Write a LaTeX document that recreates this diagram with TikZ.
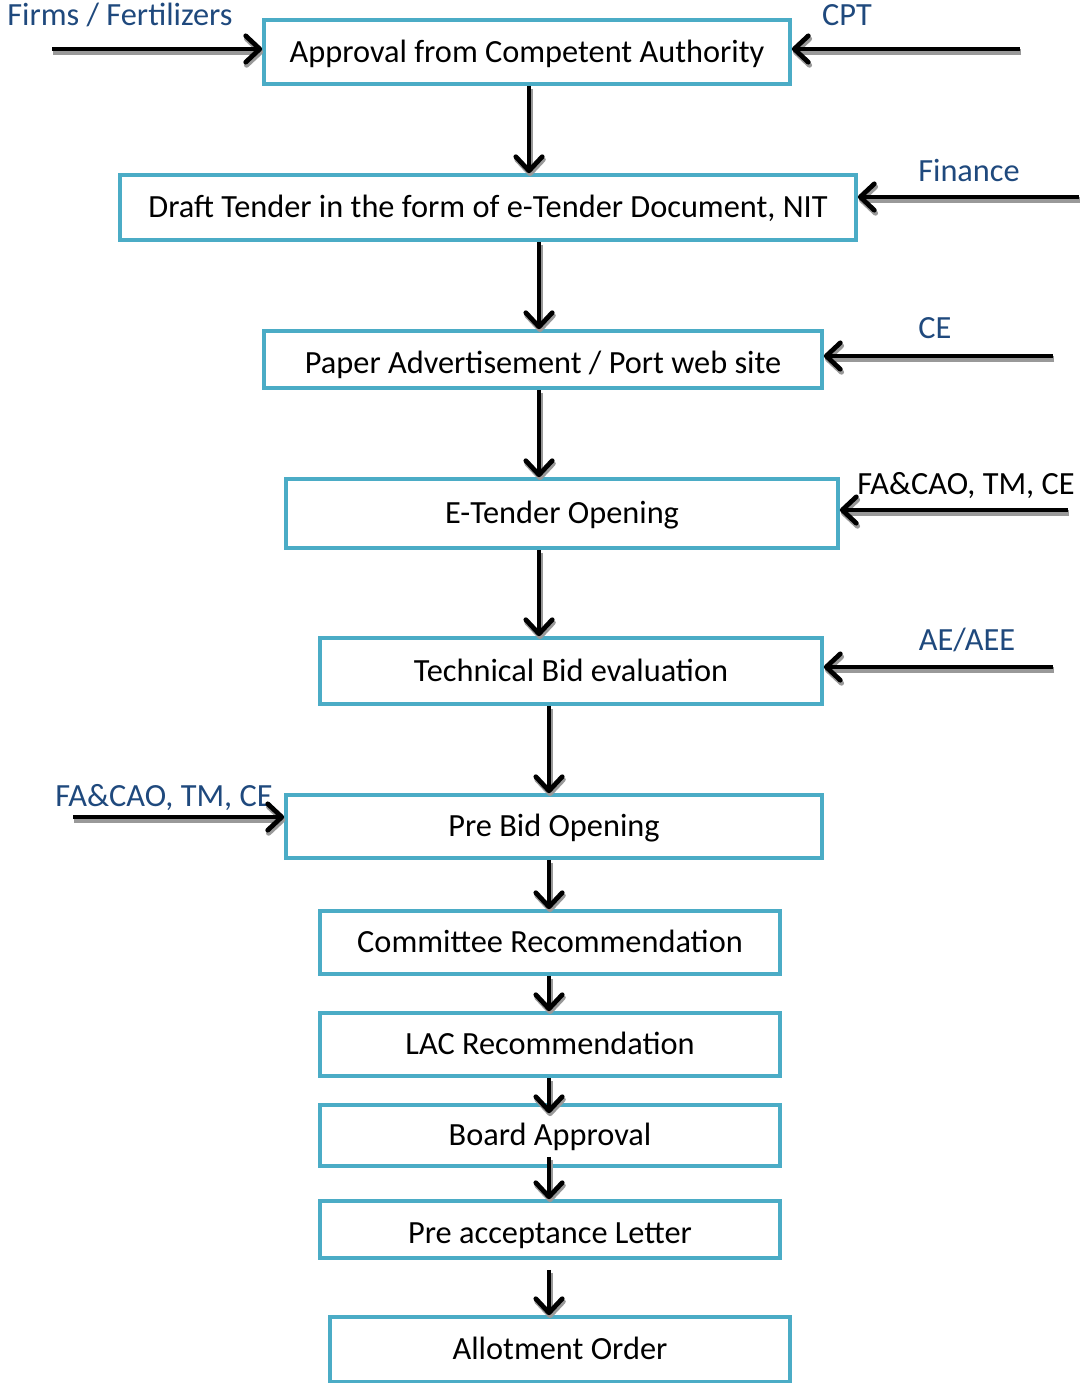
\documentclass[tikz,border=0pt]{standalone}
\usepackage{fontspec}
\setmainfont{Carlito}
\usepackage{tikz}
\usetikzlibrary{arrows.meta}
\definecolor{boxblue}{HTML}{4BACC6}
\definecolor{lblblue}{HTML}{1F497D}
\tikzset{>/.tip={Straight Barb[length=8pt,width=15pt,round]},
  box/.style={draw=boxblue, line width=2.1pt, inner sep=0pt, text height=13pt, text depth=1.6pt, font=\fontsize{18.4}{22}\selectfont},
  low/.style={text height=15.4pt, text depth=0pt},
  lbl/.style={anchor=base, text=lblblue, inner sep=0pt, font=\fontsize{18.4}{22}\selectfont},
  flow/.style={->, line width=2.7pt, preaction={draw=black!40, line width=2.9pt, transform canvas={shift={(0.6pt,-1.7pt)}}}}}

\begin{document}
\begin{tikzpicture}[x=0.2mm, y=-0.2mm]
\useasboundingbox (0,0) rectangle (1079,1383);
% boxes
\node[box, minimum width=105.2mm, minimum height=12.8mm] (appr)  at (527,52)    {Approval from Competent Authority};
\node[box, minimum width=147.2mm, minimum height=13mm]   (draft) at (488,207.5) {Draft Tender in the form of e-Tender Document, NIT};
\node[box, low, minimum width=111.6mm, minimum height=11.4mm] (paper) at (543,359.5) {Paper Advertisement / Port web site};
\node[box, minimum width=110.4mm, minimum height=13.8mm] (open)  at (562,513.5) {E-Tender Opening};
\node[box, minimum width=100.4mm, minimum height=13.2mm] (tech)  at (571,671)   {Technical Bid evaluation};
\node[box, minimum width=107.2mm, minimum height=12.6mm] (pre)   at (554,826.5) {Pre Bid Opening};
\node[box, minimum width=92mm, minimum height=12.6mm]    (comm)  at (550,942.5) {Committee Recommendation};
\node[box, minimum width=92mm, minimum height=12.6mm]    (lac)   at (550,1044.5) {LAC Recommendation};
\node[box, minimum width=92mm, minimum height=12.2mm]    (board) at (550,1135.5) {Board Approval};
\node[box, low, minimum width=92mm, minimum height=11.4mm] (letter) at (550,1229.5) {Pre acceptance Letter};
\node[box, minimum width=92mm, minimum height=13mm]      (allot) at (560,1349.5) {Allotment Order};

% arrow columns
\coordinate (ca) at (529,0);
\coordinate (cb) at (539,0);
\coordinate (cc) at (549,0);

\draw[flow] (appr.south -| ca) -- (draft.north -| ca);
\draw[flow] (draft.south -| cb) -- (paper.north -| cb);
\draw[flow] (paper.south -| cb) -- (open.north -| cb);
\draw[flow] (open.south -| cb) -- (tech.north -| cb);
\draw[flow] (tech.south -| cc) -- (pre.north -| cc);
\draw[flow] (pre.south -| cc) -- (comm.north -| cc);
\draw[flow] (comm.south -| cc) -- (lac.north -| cc);
\draw[flow] (lac.south -| cc) -- ([yshift=-10*0.2mm]board.north -| cc);
\draw[flow] ([yshift=11*0.2mm]board.south -| cc) -- (letter.north -| cc);
\draw[flow] ([yshift=-10*0.2mm]letter.south -| cc) -- (allot.north -| cc);

% inputs
\node[lbl] (firms) at (120,25) {Firms / Fertilizers};
\node[lbl] (cpt) at (847,25) {CPT};
\node[lbl] (fin) at (969,181) {Finance};
\node[lbl] (ce) at (935,338) {CE};
\node[lbl, text=black] (fa1) at (966,494) {FA\&CAO, TM, CE};
\node[lbl] (ae) at (967,650) {AE/AEE};
\node[lbl] (fa2) at (164,806) {FA\&CAO, TM, CE};

\coordinate (s1) at (52,49);
\coordinate (s2) at (1020,49);
\coordinate (s3) at (1079,197);
\coordinate (s4) at (1053,356);
\coordinate (s5) at (1068,510);
\coordinate (s6) at (1053,667);
\coordinate (s7) at (73,817);
\draw[flow] (s1) -- (s1 -| appr.west);
\draw[flow] (s2) -- (s2 -| appr.east);
\draw[flow] (s3) -- (s3 -| draft.east);
\draw[flow] (s4) -- (s4 -| paper.east);
\draw[flow] (s5) -- (s5 -| open.east);
\draw[flow] (s6) -- (s6 -| tech.east);
\draw[flow] (s7) -- (s7 -| pre.west);
\end{tikzpicture}
\end{document}
